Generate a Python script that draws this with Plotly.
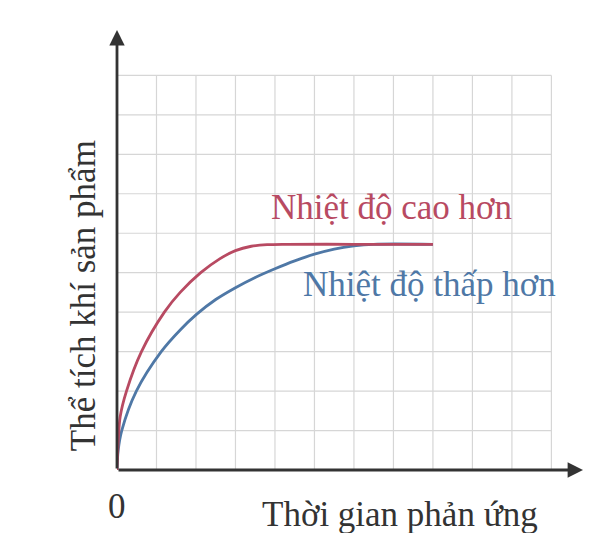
import plotly.graph_objects as go

# Data (grid units)
hot_x = [0, 0.03, 0.08, 0.24, 0.62, 1.2, 1.6, 2.12, 2.6, 3.0, 3.4, 3.8, 4.3, 6.0, 8.0]
hot_y = [0, 0.7, 1.35, 2.0, 3.0, 4.0, 4.5, 5.0, 5.35, 5.56, 5.67, 5.71, 5.72, 5.72, 5.72]
cold_x = [0, 0.03, 0.12, 0.49, 1.12, 1.6, 2.02, 2.5, 3.0, 3.5, 4.0, 4.5, 5.0, 5.5, 6.0, 6.5, 8.0]
cold_y = [0, 0.5, 1.0, 2.0, 3.0, 3.55, 3.95, 4.32, 4.62, 4.88, 5.1, 5.3, 5.47, 5.6, 5.68, 5.72, 5.72]
grid_x = list(range(0, 12))
grid_y = list(range(0, 11))

hot_label = "Nhiệt độ cao hơn"
cold_label = "Nhiệt độ thấp hơn"
x_title = "Thời gian phản ứng"
y_title = "Thể tích khí sản phẩm"
origin_label = "0"

RED = "#b84a62"
BLUE = "#4f78a6"
AX = "#333333"
GRID = "#d6d6d6"
FONT = "Liberation Serif"

fig = go.Figure()

shapes = []
for gx in grid_x[1:]:
    shapes.append(dict(type="line", x0=gx, x1=gx, y0=0, y1=grid_y[-1],
                       xref="x", yref="y", line=dict(color=GRID, width=1.2), layer="below"))
for gy in grid_y[1:]:
    shapes.append(dict(type="line", x0=0, x1=grid_x[-1], y0=gy, y1=gy,
                       xref="x", yref="y", line=dict(color=GRID, width=1.2), layer="below"))

fig.add_trace(go.Scatter(x=cold_x, y=cold_y, mode="lines", line=dict(color=BLUE, width=2.8, shape="spline", smoothing=0.9),
                         cliponaxis=False, showlegend=False, hoverinfo="skip"))
fig.add_trace(go.Scatter(x=hot_x, y=hot_y, mode="lines", line=dict(color=RED, width=2.8, shape="spline", smoothing=0.9),
                         cliponaxis=False, showlegend=False, hoverinfo="skip"))

annotations = [
    # axes with arrowheads
    dict(x=11.8, y=0, ax=0, ay=0, xref="x", yref="y", axref="x", ayref="y", showarrow=True,
         arrowhead=2, arrowsize=1.1, arrowwidth=2.8, arrowcolor=AX, text=""),
    dict(x=0, y=11.15, ax=0, ay=0, xref="x", yref="y", axref="x", ayref="y", showarrow=True,
         arrowhead=2, arrowsize=1.1, arrowwidth=2.8, arrowcolor=AX, text=""),
    dict(x=0, y=-0.084, xref="x", yref="paper", text=origin_label, showarrow=False,
         xanchor="center", yanchor="middle", font=dict(family=FONT, size=35, color=AX)),
    dict(x=7.16, y=-0.102, xref="x", yref="paper", text=x_title, showarrow=False,
         xanchor="center", yanchor="middle", font=dict(family=FONT, size=35, color=AX)),
    dict(x=-0.073, y=4.43, xref="paper", yref="y", text=y_title, showarrow=False, textangle=-90,
         xanchor="center", yanchor="middle", font=dict(family=FONT, size=35, color=AX)),
    dict(x=6.96, y=6.64, xref="x", yref="y", text=hot_label, showarrow=False,
         xanchor="center", yanchor="middle", font=dict(family=FONT, size=35, color=RED)),
    dict(x=7.92, y=4.69, xref="x", yref="y", text=cold_label, showarrow=False,
         xanchor="center", yanchor="middle", font=dict(family=FONT, size=35, color=BLUE)),
]

fig.update_layout(
    width=585, height=525,
    margin=dict(l=109, r=10, t=22, b=63),
    paper_bgcolor="white", plot_bgcolor="white",
    shapes=shapes, annotations=annotations,
    xaxis=dict(range=[0, 11.8], showgrid=False, zeroline=False, showticklabels=False, showline=False, fixedrange=True),
    yaxis=dict(range=[0, 11.15], showgrid=False, zeroline=False, showticklabels=False, showline=False, fixedrange=True),
)

fig.write_html("out.html")
